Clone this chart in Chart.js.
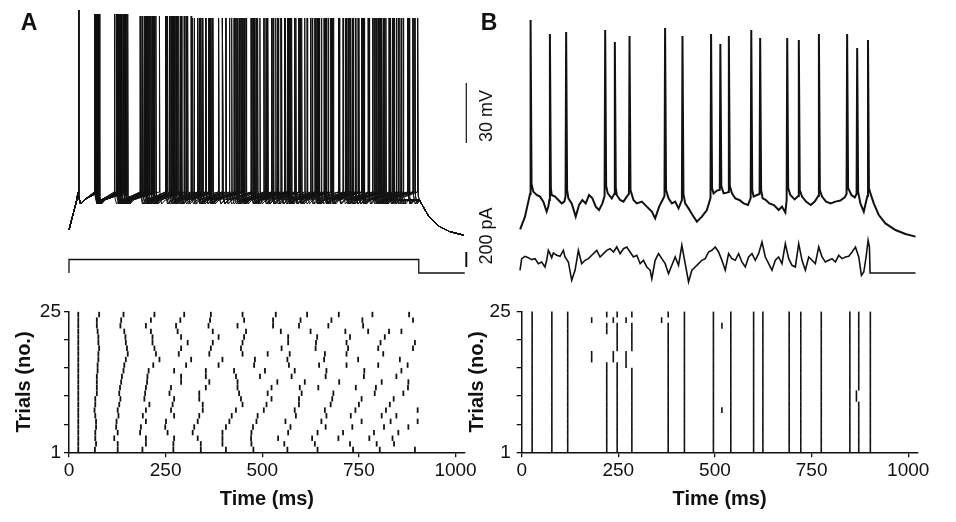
<!DOCTYPE html>
<html>
<head>
<meta charset="utf-8">
<title>Spike timing reliability</title>
<script src="https://cdn.jsdelivr.net/npm/chart.js@4.4.1/dist/chart.umd.min.js"></script>
<style>
  body { margin: 0; background: #fff; }
  #wrap { position: relative; width: 956px; height: 522px; overflow: hidden; background: #fff; }
  canvas { position: absolute; }
  #traces { left: 0; top: 0; }
  #rasterA { left: 0; top: 290px; }
  #rasterB { left: 460px; top: 290px; }
</style>
</head>
<body>
<div id="wrap">
  <canvas id="traces" width="956" height="290"></canvas>
  <canvas id="rasterA" width="485" height="232"></canvas>
  <canvas id="rasterB" width="496" height="232"></canvas>
</div>
<script>
// --- data ---

// panel A: spike times (ms) for trials 1..25, constant current step
const aSpikes = [
  [24, 67, 126, 190, 270, 341, 406, 477, 565, 643, 735, 804, 895],
  [24, 70, 126, 199, 270, 341, 397, 472, 557, 636, 727, 796, 841],
  [24, 68, 117, 199, 272, 333, 397, 471, 541, 629, 697, 777, 837],
  [24, 68, 126, 184, 255, 320, 397, 472, 567, 643, 709, 789, 852],
  [24, 70, 122, 186, 249, 324, 406, 476, 573, 664, 733, 815, 878],
  [24, 70, 123, 199, 251, 333, 415, 485, 560, 653, 757, 832, 902],
  [24, 68, 128, 191, 272, 337, 421, 488, 587, 666, 729, 809, 847],
  [24, 66, 126, 199, 264, 346, 432, 504, 584, 662, 741, 820, 902],
  [24, 68, 130, 208, 268, 346, 449, 511, 595, 677, 750, 830],
  [24, 68, 133, 195, 272, 337, 445, 524, 595, 681, 757, 840],
  [24, 72, 130, 197, 260, 337, 440, 514, 602, 684, 791, 865],
  [24, 72, 132, 199, 264, 354, 436, 524, 597, 645, 742, 794, 877],
  [24, 72, 135, 202, 290, 363, 436, 539, 610, 699, 809, 878],
  [24, 72, 137, 203, 290, 354, 432, 494, 576, 664, 763, 847],
  [24, 74, 141, 206, 272, 354, 427, 507, 584, 666, 764, 860],
  [24, 74, 143, 218, 303, 387, 479, 569, 647, 718, 800, 876],
  [24, 76, 147, 234, 316, 397, 481, 565, 660, 748, 856],
  [24, 76, 152, 225, 284, 363, 449, 514, 571, 662, 718, 813],
  [24, 78, 150, 221, 290, 367, 445, 550, 638, 722, 800, 890],
  [24, 76, 147, 216, 307, 372, 449, 567, 639, 718, 806, 895],
  [24, 76, 146, 216, 290, 387, 453, 567, 642, 727, 817],
  [24, 74, 143, 212, 281, 372, 458, 548, 625, 715, 774, 828, 860],
  [24, 72, 133, 199, 277, 361, 436, 528, 595, 671, 761],
  [24, 72, 135, 212, 288, 365, 453, 528, 599, 679, 759, 890],
  [24, 78, 141, 221, 298, 367, 449, 535, 616, 698, 785, 880]
];
// spike peak (mV) by order within a trial
const aPeakMv = [45, 43, 43, 42, 42, 41, 41, 41, 41, 41, 41, 41, 41, 41];
// membrane potential at step onset / after step offset [ms, mV]
const aOnset = [[0, -65], [20, -50]];
const aOffset = [[907, -50], [921, -55], [934, -59], [959, -63.3], [985, -65.8], [1020, -67.5]];
// shape around each spike [ms from spike, mV]; null = peak
const aSpikeShape = [[-0.5, -46], [0, null], [1.5, -48], [6, -52], [15, -50]];
// injected current step [ms, pA]
const aCurrent = [[0, 0], [0, 180], [905, 180], [905, 0], [1024, 0]];

// panel B: one example voltage trace [ms, mV]
const bVoltage = [
  [-4, -64.7], [8.5, -58.3], [19, -49.2], [21.5, -47], [23, 40], [25.5, -42], [30, -45.8], [38.7, -47.5],
  [47.4, -48.3], [56, -50.8], [64.6, -55.8], [69, -53.3], [71.5, -50], [73, 33], [75.5, -44], [77.6, -47.5],
  [86.2, -48.3], [94.9, -50], [103.5, -51.7], [110.4, -50.8], [113.5, -48], [115, 34], [117.5, -45],
  [120.8, -49.2], [129.4, -51.7], [139.8, -58.3], [148.4, -52.5], [157, -50], [165.7, -51.7], [174.3, -47.5],
  [183, -49.2], [191.6, -53.3], [200.2, -55], [208.9, -51.7], [214.5, -48], [216, 35], [218.5, -43],
  [222.7, -46.7], [233, -49.2], [239.5, -47], [241, 29], [243.5, -44], [246, -47.5], [254.6, -50],
  [263.3, -50.8], [271.9, -48.3], [277.5, -47], [279, 32], [281.5, -45], [289.2, -50], [297.8, -51.7],
  [310.8, -50.8], [323.7, -53.3], [336.7, -55.8], [345.3, -59.2], [355.7, -53.3], [364.3, -50], [369.5, -48],
  [371, 36], [373.5, -45], [379.9, -49.2], [388.5, -51.7], [397.1, -50.8], [405.8, -54.2], [414.5, -50],
  [416, 32], [418.5, -47], [423, -51.7], [431.7, -54.2], [442, -57.5], [453.3, -60.8], [466.2, -58.3],
  [479.2, -55], [488.5, -49], [490, 33], [492.5, -44], [496.4, -46.7], [505.1, -45.3], [512.5, -45], [514, 28],
  [516.5, -43], [522.4, -46.7], [531, -46.3], [534.5, -46], [536, 32], [538.5, -43], [544, -46.7],
  [552.6, -49.2], [563, -50], [574.2, -51.7], [585.4, -52.5], [592.5, -49], [594, 35], [596.5, -45],
  [600, -48.3], [608.7, -47.5], [615.5, -47], [617, 31], [619.5, -45], [623.4, -49.2], [632, -50],
  [640.6, -51.7], [652.8, -52.5], [664.8, -55], [673.5, -53.3], [682.1, -56.3], [685.5, -50], [687, 31],
  [689.5, -44], [695, -47.5], [706.3, -49.7], [715.5, -48], [717, 30], [719.5, -45], [725.3, -48.3],
  [735.7, -50.8], [747.8, -52.5], [758.1, -50.8], [767.5, -48], [769, 33], [771.5, -45], [777.1, -48.3],
  [787.5, -50.8], [799.6, -51.7], [811.7, -50.8], [824.6, -50.3], [835.8, -48.7], [840.5, -47], [842, 33],
  [844.5, -44], [853.1, -47.5], [861.8, -48.7], [866.5, -47], [868, 26], [870.5, -46], [876.4, -51.7],
  [885.1, -55.8], [891.1, -50.8], [894.5, -48], [896, 30], [898.5, -44], [902.3, -46.7], [910.9, -51.7],
  [923.9, -57.5], [941.2, -61.7], [967.1, -65], [993, -67], [1019, -68.3]
];
// panel B: fluctuating injected current [ms, pA]
const bCurrent = [
  [-4.4, 36], [0, 191], [8.5, 222], [17.1, 204], [25.8, 178], [34.4, 191], [43.1, 124], [51.7, 147], [60.3, 80],
  [64.6, 169], [69, 302], [73.3, 258], [77.6, 204], [81.9, 267], [90.6, 236], [99.2, 222], [107.8, 302],
  [112.1, 213], [120.8, 147], [129.4, -98], [138, 36], [146.7, 302], [155.3, 124], [164, 169], [172.6, 191],
  [181.2, 236], [194.2, 302], [202.8, 213], [211.5, 258], [220.1, 302], [228.7, 324], [237.4, 280], [246, 347],
  [254.6, 258], [263.3, 324], [271.9, 347], [280.5, 280], [289.2, 213], [297.8, 236], [306.5, 124], [315.1, 169],
  [323.7, 80], [332.4, 36], [336.7, -76], [345.3, 169], [354, 258], [362.6, 191], [371.2, 124], [379.9, -9],
  [388.5, 102], [397.1, 213], [405.8, 102], [414.4, 369], [423, 124], [431.7, -120], [440.3, 36], [449, 80],
  [457.6, 124], [466.2, 169], [474.9, 191], [483.5, 280], [492.1, 302], [500.8, 347], [509.4, 280], [518, 169],
  [526.7, 36], [535.3, 258], [544, 191], [552.6, 169], [561.2, 258], [569.8, 147], [578.5, 80], [587.1, 213],
  [595.8, 258], [604.4, 169], [613, 258], [621.7, 413], [630.3, 213], [639, 124], [647.6, 36], [656.2, 169],
  [664.8, 213], [673.5, 124], [682.1, 391], [690.8, 191], [699.4, 102], [708, 80], [716.7, 391], [725.3, 169],
  [733.9, 36], [742.6, 213], [751.2, 169], [759.8, 124], [768.5, 347], [777.1, 213], [785.7, 147], [794.4, 169],
  [803, 191], [811.7, 147], [820.3, 236], [828.9, 191], [837.6, 213], [846.2, 222], [854.8, 280], [863.5, 347],
  [872.1, 213], [879, -31], [885.1, 13], [891.1, 213], [896.3, 436], [899.7, 347], [901.4, 0], [1019, 0]
];
// panel B raster: spike times shared by nearly all trials, plus exceptions
const bCommon = [27, 78, 119, 220, 247, 285, 379, 421, 496, 541, 600, 624, 692, 722, 775, 849, 872, 902];
const bShifted = [ // [trial, usual time, time on that trial]
  [24, 220, 181], [24, 247, 237], [24, 285, 270], [24, 379, 362],
  [18, 220, 181], [18, 247, 237], [18, 285, 270],
  [17, 220, 181], [17, 247, 237], [17, 285, 270],
  [16, 285, 270], [11, 872, 866], [10, 872, 866]
];
const bDropped = [[19, 220], [20, 220], [21, 220]];
const bExtra = [[23, 518], [8, 518]];

const trialCount = 25;
const xTicks = [0, 250, 500, 750, 1000];
const yTicks = [0.5, 5.5, 10.5, 15.5, 20.5, 25.5];
const yTickText = { 0.5: '1', 25.5: '25' };
const scaleBarT = 1028;
const scaleBarMv = [8.5, -21.5];   // 30 mV
const scaleBarPa = [80, 280];      // 200 pA

// --- build chart data ---
const toPts = (arr) => arr.map(([x, y]) => ({ x, y }));

function buildTrace(times) {
  const pts = toPts(aOnset);
  times.forEach((ts, k) => {
    const limit = k + 1 < times.length ? times[k + 1] - 1 : aOffset[0][0];
    aSpikeShape.forEach(([dt, v]) => {
      const t = ts + dt;
      if (dt > 0 && t >= limit) return;
      pts.push({ x: t, y: v === null ? aPeakMv[k] : v });
    });
  });
  return pts.concat(toPts(aOffset));
}

const aRaster = [];
aSpikes.forEach((times, i) => times.forEach(t => aRaster.push({ x: t, y: i + 1 })));

const bRaster = [];
for (let trial = 1; trial <= trialCount; trial++) {
  bCommon.forEach(t => {
    if (bDropped.some(([tr, dt]) => tr === trial && dt === t)) return;
    const moved = bShifted.find(([tr, from]) => tr === trial && from === t);
    bRaster.push({ x: moved ? moved[2] : t, y: trial });
  });
}
bExtra.forEach(([trial, t]) => bRaster.push({ x: t, y: trial }));

// --- charts ---
const FONT = '"Liberation Sans", Arial, Helvetica, sans-serif';
Chart.defaults.font.family = FONT;
Chart.defaults.color = '#111';
const INK = '#111';

const lineSet = (data, xAxisID, yAxisID, width) => ({
  data, xAxisID, yAxisID,
  borderColor: INK, borderWidth: width, pointRadius: 0, tension: 0, fill: false
});

const traceSets = aSpikes.map(times => lineSet(buildTrace(times), 'xA', 'yV', 1));
traceSets.push(lineSet(toPts(aCurrent), 'xA', 'yI', 1.3));
traceSets.push(lineSet(toPts(bVoltage), 'xB', 'yV', 2));
traceSets.push(lineSet(toPts(bCurrent), 'xB', 'yI', 1.6));
traceSets.push(lineSet(scaleBarMv.map(v => ({ x: scaleBarT, y: v })), 'xA', 'yV', 1.2));
traceSets.push(lineSet(scaleBarPa.map(v => ({ x: scaleBarT, y: v })), 'xA', 'yI', 2));

const panelText = {
  id: 'panelText',
  afterDraw(chart) {
    const ctx = chart.ctx;
    ctx.save();
    ctx.fillStyle = INK;
    ctx.textAlign = 'center';
    ctx.textBaseline = 'middle';
    ctx.font = 'bold 23px ' + FONT;
    ctx.fillText('A', 29, 24);
    ctx.fillText('B', 489, 24);
    ctx.font = '18px ' + FONT;
    [['30 mV', 116], ['200 pA', 236]].forEach(([txt, y]) => {
      ctx.save();
      ctx.translate(487, y);
      ctx.rotate(-Math.PI / 2);
      ctx.fillText(txt, 0, 0);
      ctx.restore();
    });
    ctx.restore();
  }
};

const hidden = (axis, min, max) => ({ type: 'linear', axis, display: false, min, max });

new Chart(document.getElementById('traces'), {
  type: 'line',
  data: { datasets: traceSets },
  options: {
    responsive: false, animation: false, devicePixelRatio: 1, events: [],
    layout: { padding: 0 },
    plugins: { legend: { display: false }, tooltip: { enabled: false } },
    scales: {
      xA: hidden('x', -178.5, 2295),
      xB: hidden('x', -1349.8, 1123.7),
      yV: hidden('y', -95, 50),
      yI: hidden('y', -227, 3640)
    }
  },
  plugins: [panelText]
});

function rasterChart(id, data, opt) {
  return new Chart(document.getElementById(id), {
    type: 'scatter',
    data: {
      datasets: [{
        data,
        pointStyle: 'line', pointRotation: 90, pointRadius: opt.mark,
        pointBorderWidth: opt.markWidth, pointBorderColor: INK, pointBackgroundColor: INK,
        clip: false
      }]
    },
    options: {
      responsive: false, animation: false, devicePixelRatio: 1, events: [],
      layout: { padding: { top: 21.7, right: opt.padRight, left: 0, bottom: 0 } },
      plugins: { legend: { display: false }, tooltip: { enabled: false } },
      scales: {
        x: {
          type: 'linear', min: 0, max: 1024,
          afterBuildTicks: s => { s.ticks = xTicks.map(value => ({ value })); },
          afterFit: s => { s.height = 69.7; },
          ticks: { font: { size: 19 }, padding: 2, color: INK, callback: v => String(v) },
          grid: { drawOnChartArea: false, drawTicks: true, tickLength: 5, color: INK, lineWidth: 1.3 },
          border: { display: true, color: INK, width: 1.5 },
          title: { display: true, text: 'Time (ms)', color: INK,
                   font: { size: 20, weight: 'bold' }, padding: { top: 0, bottom: 11 } }
        },
        y: {
          type: 'linear', min: 0.5, max: 25.5,
          afterBuildTicks: s => { s.ticks = yTicks.map(value => ({ value })); },
          afterFit: s => { s.width = opt.yWidth; },
          ticks: { font: { size: 19 }, padding: opt.tickPad, color: INK,
                   callback: v => yTickText[v] || '' },
          grid: { drawOnChartArea: false, drawTicks: true, tickLength: 5, color: INK, lineWidth: 1.3 },
          border: { display: true, color: INK, width: 1.5 },
          title: { display: true, text: 'Trials (no.)', color: INK,
                   font: { size: 20, weight: 'bold' }, padding: { top: opt.titlePad, bottom: 0 } }
        }
      }
    }
  });
}

rasterChart('rasterA', aRaster, { mark: 2.7, markWidth: 1.8, padRight: 20.2, yWidth: 69, tickPad: 3, titlePad: 12 });
rasterChart('rasterB', bRaster, { mark: 2.9, markWidth: 1.6, padRight: 38.5, yWidth: 61.7, tickPad: 6, titlePad: 5 });
</script>
</body>
</html>
